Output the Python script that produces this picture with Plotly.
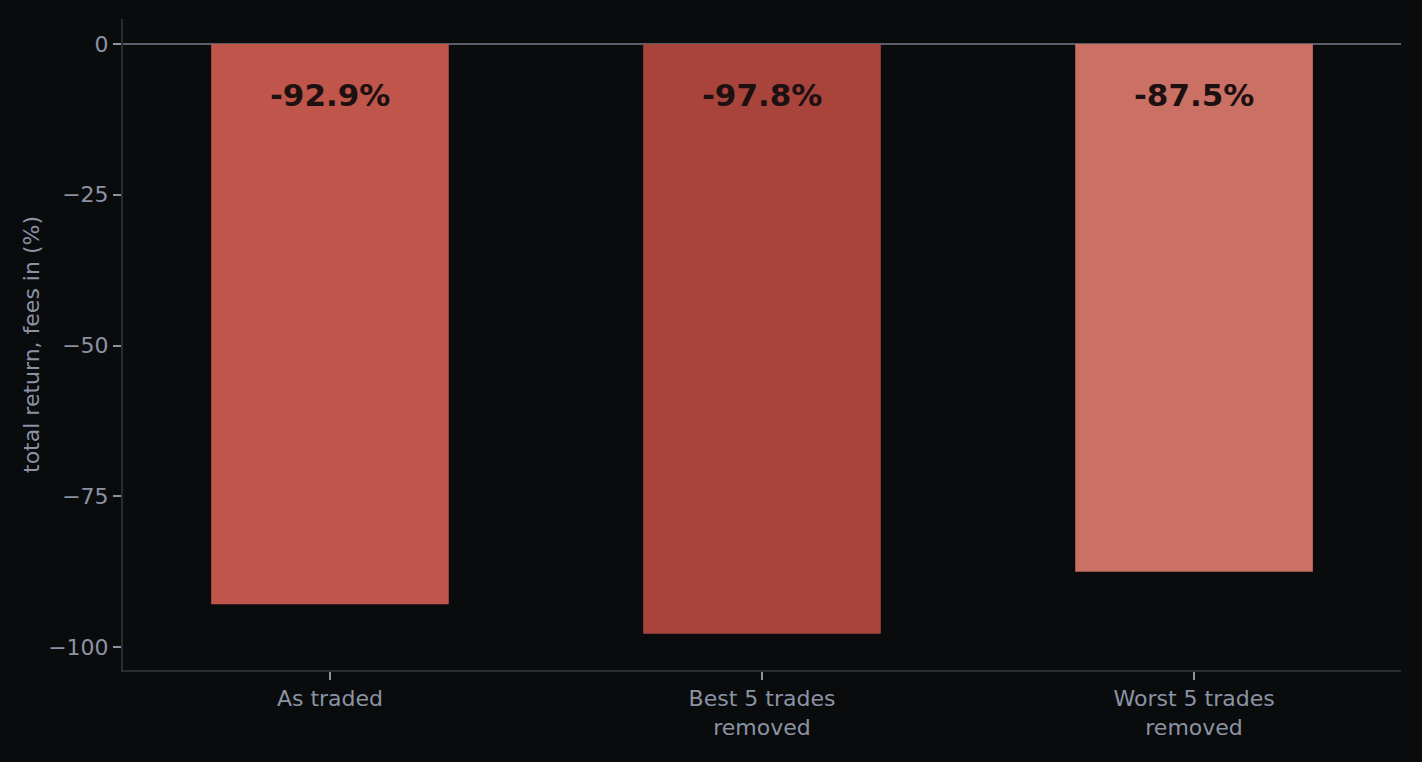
import plotly.graph_objects as go

# scenario labels and total return (%) after fees
scenarios = ["As traded", "Best 5 trades<br>removed", "Worst 5 trades<br>removed"]
total_return = [-92.9, -97.8, -87.5]
bar_colors = ["#c0554b", "#a8443c", "#cb7065"]

# y ticks, written with a real minus sign like the original
y_ticks = [0, -25, -50, -75, -100]
y_ticktext = ["0", "\u221225", "\u221250", "\u221275", "\u2212100"]

BG = "#0a0b0d"
TICK_COLOR = "#8b93a3"
SPINE_COLOR = "#2a2c31"
LABEL_OFFSET = -8.5  # where the value label sits, just under zero

fig = go.Figure()
fig.add_trace(go.Bar(
    x=scenarios,
    y=total_return,
    width=0.55,
    marker=dict(color=bar_colors, line_width=0),
    hoverinfo="x+y",
    showlegend=False,
))

for name, val in zip(scenarios, total_return):
    fig.add_annotation(
        x=name, y=LABEL_OFFSET,
        text="<b>%.1f%%</b>" % val,
        showarrow=False,
        font=dict(family="DejaVu Sans", size=31, color="#1c1010"),
        xanchor="center", yanchor="middle",
    )

fig.update_layout(
    width=1422,
    height=762,
    autosize=False,
    paper_bgcolor=BG,
    plot_bgcolor=BG,
    margin=dict(l=123, r=21, t=19, b=92),
    font=dict(family="DejaVu Sans", size=22, color=TICK_COLOR),
    xaxis=dict(
        range=[-0.479, 2.479],
        showgrid=False,
        showline=True,
        linecolor=SPINE_COLOR,
        linewidth=2,
        ticks="outside",
        ticklen=8,
        tickwidth=2,
        tickcolor=TICK_COLOR,
        tickfont=dict(size=22, color=TICK_COLOR),
        zeroline=False,
    ),
    yaxis=dict(
        title=dict(text="total return, fees in (%)", font=dict(size=22, color=TICK_COLOR), standoff=2),
        range=[-103.8, 4.15],
        tickvals=y_ticks,
        ticktext=y_ticktext,
        showgrid=False,
        showline=True,
        linecolor=SPINE_COLOR,
        linewidth=2,
        ticks="outside",
        ticklen=8,
        tickwidth=2,
        tickcolor=TICK_COLOR,
        tickfont=dict(size=22, color=TICK_COLOR),
        zeroline=True,
        zerolinecolor="#5b5f69",
        zerolinewidth=2,
        layer="above traces",
    ),
)

# drop the browser's default page margin so the figure fills the window
fig.write_html(
    "out.html",
    config={"displayModeBar": False},
    post_script="document.body.style.margin='0';document.body.style.backgroundColor='%s';" % BG,
)
